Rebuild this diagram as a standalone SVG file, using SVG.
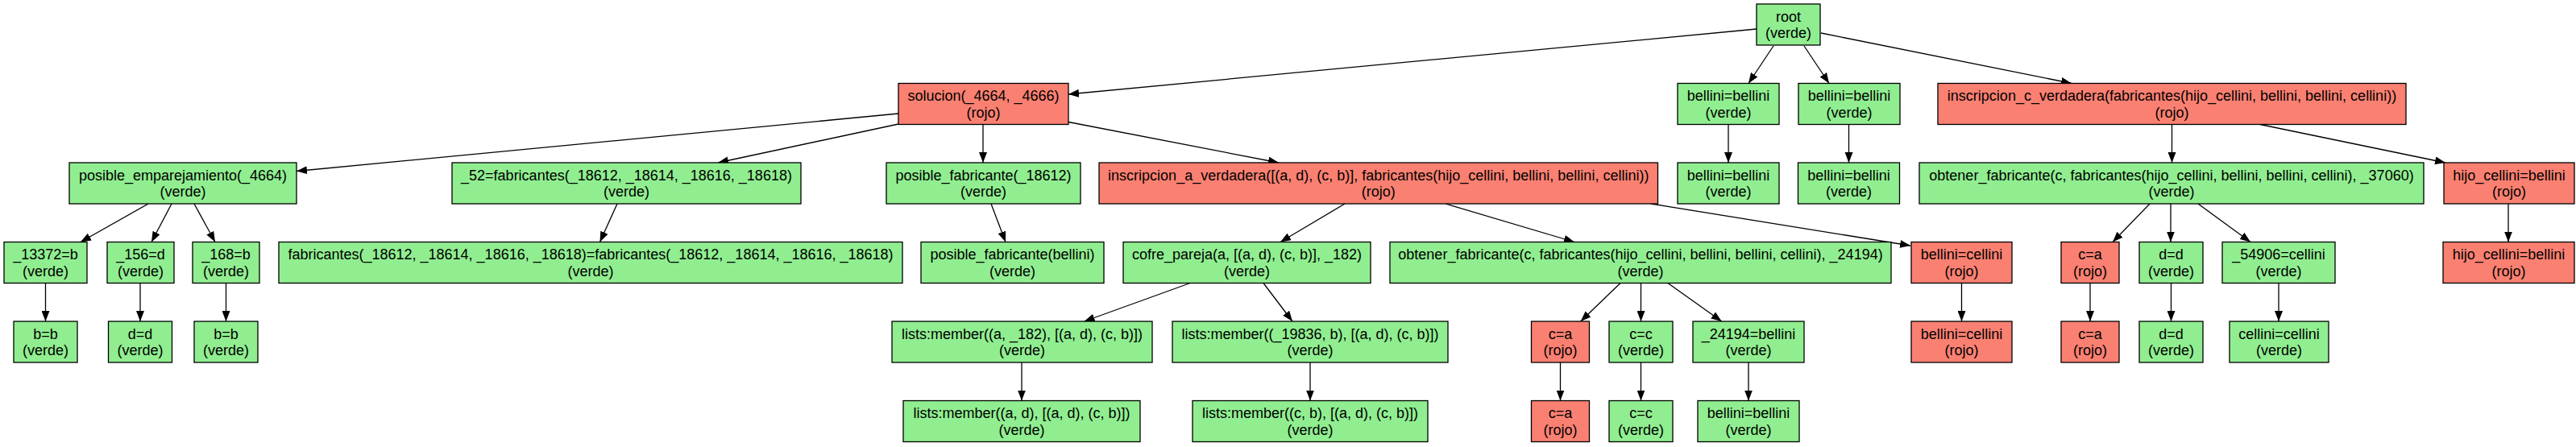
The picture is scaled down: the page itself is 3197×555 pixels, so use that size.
<svg xmlns="http://www.w3.org/2000/svg" width="3197" height="555" viewBox="0 0 3197 555">
<style>
.g{fill:#90ee90;stroke:#000;stroke-width:1.3}
.r{fill:#fa8072;stroke:#000;stroke-width:1.3}
text{font-family:"Liberation Sans",Arial,sans-serif;font-size:18px;text-anchor:middle;fill:#000}
.e{fill:none;stroke:#000;stroke-width:1.3;marker-end:url(#ah)}
</style>
<defs>
<marker id="ah" markerWidth="13" markerHeight="10" refX="13" refY="5" orient="auto" markerUnits="userSpaceOnUse">
<path d="M0,0 L13,5 L0,10 z" fill="#000"/>
</marker>
</defs>
<rect width="3197" height="555" fill="#fff"/>
<g id="edges">
<path class="e" d="M2180,36 L1326,117"/>
<path class="e" d="M2201,57 L2170,103.5"/>
<path class="e" d="M2239,57 L2270,103.5"/>
<path class="e" d="M2260,41 L2571,103.5"/>
<path class="e" d="M1115,141 L368,212.5"/>
<path class="e" d="M1115,154 L891,202"/>
<path class="e" d="M1220,154.5 L1220,202"/>
<path class="e" d="M1326,151.5 L1587,202"/>
<path class="e" d="M2145,154.5 L2145,202"/>
<path class="e" d="M2294.5,154.5 L2294.5,202"/>
<path class="e" d="M2695.5,154.5 L2695.5,202"/>
<path class="e" d="M2805,154.5 L3035,202"/>
<path class="e" d="M184,253 L100,300.5"/>
<path class="e" d="M213,253 L188,300.5"/>
<path class="e" d="M241,253 L267,300.5"/>
<path class="e" d="M766,253 L744.5,300.5"/>
<path class="e" d="M1230,253 L1248,300.5"/>
<path class="e" d="M1669,253 L1589,300.5"/>
<path class="e" d="M1794,253 L1954,300.5"/>
<path class="e" d="M2049,253 L2371,305"/>
<path class="e" d="M2668,253 L2622,300.5"/>
<path class="e" d="M2694,253 L2694,300.5"/>
<path class="e" d="M2728,253 L2793,300.5"/>
<path class="e" d="M3113,253 L3113,300.5"/>
<path class="e" d="M56.5,351.5 L56.5,399"/>
<path class="e" d="M174,351.5 L174,399"/>
<path class="e" d="M280.5,351.5 L280.5,399"/>
<path class="e" d="M1477,351.5 L1345.6,399"/>
<path class="e" d="M1568,351.5 L1604,399"/>
<path class="e" d="M2011,351.5 L1961.7,399"/>
<path class="e" d="M2036.5,351.5 L2036.5,399"/>
<path class="e" d="M2070,351.5 L2136.7,399"/>
<path class="e" d="M2434.5,351.5 L2434.5,399"/>
<path class="e" d="M2594,351.5 L2594,399"/>
<path class="e" d="M2694.5,351.5 L2694.5,399"/>
<path class="e" d="M2828,351.5 L2828,399"/>
<path class="e" d="M1268,450 L1268,497.5"/>
<path class="e" d="M1626,450 L1626,497.5"/>
<path class="e" d="M1936.5,450 L1936.5,497.5"/>
<path class="e" d="M2036.5,450 L2036.5,497.5"/>
<path class="e" d="M2170,450 L2170,497.5"/>
</g>
<g id="n_root"><rect class="g" x="2180" y="5" width="79" height="51"/><text x="2219.5" y="26.5">root</text><text x="2219.5" y="47">(verde)</text></g>
<g id="n_solucion"><rect class="r" x="1115" y="103.5" width="211" height="51"/><text x="1220.5" y="125">solucion(_4664, _4666)</text><text x="1220.5" y="145.5">(rojo)</text></g>
<g id="n_bb1"><rect class="g" x="2082" y="103.5" width="126" height="51"/><text x="2145" y="125">bellini=bellini</text><text x="2145" y="145.5">(verde)</text></g>
<g id="n_bb2"><rect class="g" x="2232" y="103.5" width="126" height="51"/><text x="2295" y="125">bellini=bellini</text><text x="2295" y="145.5">(verde)</text></g>
<g id="n_insc_c"><rect class="r" x="2405" y="103.5" width="581" height="51"/><text x="2695.5" y="125">inscripcion_c_verdadera(fabricantes(hijo_cellini, bellini, bellini, cellini))</text><text x="2695.5" y="145.5">(rojo)</text></g>
<g id="n_pos_emp"><rect class="g" x="86" y="202" width="282" height="51"/><text x="227" y="223.5">posible_emparejamiento(_4664)</text><text x="227" y="244">(verde)</text></g>
<g id="n_52"><rect class="g" x="561" y="202" width="433" height="51"/><text x="777.5" y="223.5">_52=fabricantes(_18612, _18614, _18616, _18618)</text><text x="777.5" y="244">(verde)</text></g>
<g id="n_pos_fab"><rect class="g" x="1100" y="202" width="241" height="51"/><text x="1220.5" y="223.5">posible_fabricante(_18612)</text><text x="1220.5" y="244">(verde)</text></g>
<g id="n_insc_a"><rect class="r" x="1364" y="202" width="693.5" height="51"/><text x="1710.75" y="223.5">inscripcion_a_verdadera([(a, d), (c, b)], fabricantes(hijo_cellini, bellini, bellini, cellini))</text><text x="1710.75" y="244">(rojo)</text></g>
<g id="n_bb3"><rect class="g" x="2082" y="202" width="126" height="51"/><text x="2145" y="223.5">bellini=bellini</text><text x="2145" y="244">(verde)</text></g>
<g id="n_bb4"><rect class="g" x="2231.5" y="202" width="126" height="51"/><text x="2294.5" y="223.5">bellini=bellini</text><text x="2294.5" y="244">(verde)</text></g>
<g id="n_obt37060"><rect class="g" x="2382" y="202" width="626" height="51"/><text x="2695" y="223.5">obtener_fabricante(c, fabricantes(hijo_cellini, bellini, bellini, cellini), _37060)</text><text x="2695" y="244">(verde)</text></g>
<g id="n_hijo1"><rect class="r" x="3033" y="202" width="162" height="51"/><text x="3114" y="223.5">hijo_cellini=bellini</text><text x="3114" y="244">(rojo)</text></g>
<g id="n_13372"><rect class="g" x="5" y="300.5" width="103" height="51"/><text x="56.5" y="322">_13372=b</text><text x="56.5" y="342.5">(verde)</text></g>
<g id="n_156"><rect class="g" x="133" y="300.5" width="83" height="51"/><text x="174.5" y="322">_156=d</text><text x="174.5" y="342.5">(verde)</text></g>
<g id="n_168"><rect class="g" x="239" y="300.5" width="83" height="51"/><text x="280.5" y="322">_168=b</text><text x="280.5" y="342.5">(verde)</text></g>
<g id="n_fabeq"><rect class="g" x="346" y="300.5" width="774" height="51"/><text x="733" y="322">fabricantes(_18612, _18614, _18616, _18618)=fabricantes(_18612, _18614, _18616, _18618)</text><text x="733" y="342.5">(verde)</text></g>
<g id="n_pos_fab_b"><rect class="g" x="1143" y="300.5" width="227" height="51"/><text x="1256.5" y="322">posible_fabricante(bellini)</text><text x="1256.5" y="342.5">(verde)</text></g>
<g id="n_cofre"><rect class="g" x="1394" y="300.5" width="307" height="51"/><text x="1547.5" y="322">cofre_pareja(a, [(a, d), (c, b)], _182)</text><text x="1547.5" y="342.5">(verde)</text></g>
<g id="n_obt24194"><rect class="g" x="1725" y="300.5" width="622" height="51"/><text x="2036" y="322">obtener_fabricante(c, fabricantes(hijo_cellini, bellini, bellini, cellini), _24194)</text><text x="2036" y="342.5">(verde)</text></g>
<g id="n_bc1"><rect class="r" x="2372" y="300.5" width="125" height="51"/><text x="2434.5" y="322">bellini=cellini</text><text x="2434.5" y="342.5">(rojo)</text></g>
<g id="n_ca1"><rect class="r" x="2558" y="300.5" width="72" height="51"/><text x="2594" y="322">c=a</text><text x="2594" y="342.5">(rojo)</text></g>
<g id="n_dd1"><rect class="g" x="2655" y="300.5" width="79" height="51"/><text x="2694.5" y="322">d=d</text><text x="2694.5" y="342.5">(verde)</text></g>
<g id="n_54906"><rect class="g" x="2758" y="300.5" width="140" height="51"/><text x="2828" y="322">_54906=cellini</text><text x="2828" y="342.5">(verde)</text></g>
<g id="n_hijo2"><rect class="r" x="3032" y="300.5" width="163" height="51"/><text x="3113.5" y="322">hijo_cellini=bellini</text><text x="3113.5" y="342.5">(rojo)</text></g>
<g id="n_bb5"><rect class="g" x="17" y="399" width="79" height="51"/><text x="56.5" y="420.5">b=b</text><text x="56.5" y="441">(verde)</text></g>
<g id="n_dd2"><rect class="g" x="134.5" y="399" width="79" height="51"/><text x="174" y="420.5">d=d</text><text x="174" y="441">(verde)</text></g>
<g id="n_bb6"><rect class="g" x="241" y="399" width="79" height="51"/><text x="280.5" y="420.5">b=b</text><text x="280.5" y="441">(verde)</text></g>
<g id="n_lm1"><rect class="g" x="1107" y="399" width="323" height="51"/><text x="1268.5" y="420.5">lists:member((a, _182), [(a, d), (c, b)])</text><text x="1268.5" y="441">(verde)</text></g>
<g id="n_lm2"><rect class="g" x="1455" y="399" width="342" height="51"/><text x="1626" y="420.5">lists:member((_19836, b), [(a, d), (c, b)])</text><text x="1626" y="441">(verde)</text></g>
<g id="n_ca2"><rect class="r" x="1900.5" y="399" width="72" height="51"/><text x="1936.5" y="420.5">c=a</text><text x="1936.5" y="441">(rojo)</text></g>
<g id="n_cc1"><rect class="g" x="1997" y="399" width="79" height="51"/><text x="2036.5" y="420.5">c=c</text><text x="2036.5" y="441">(verde)</text></g>
<g id="n_24194"><rect class="g" x="2101" y="399" width="138" height="51"/><text x="2170" y="420.5">_24194=bellini</text><text x="2170" y="441">(verde)</text></g>
<g id="n_bc2"><rect class="r" x="2372" y="399" width="125" height="51"/><text x="2434.5" y="420.5">bellini=cellini</text><text x="2434.5" y="441">(rojo)</text></g>
<g id="n_ca3"><rect class="r" x="2558" y="399" width="72" height="51"/><text x="2594" y="420.5">c=a</text><text x="2594" y="441">(rojo)</text></g>
<g id="n_dd3"><rect class="g" x="2655" y="399" width="79" height="51"/><text x="2694.5" y="420.5">d=d</text><text x="2694.5" y="441">(verde)</text></g>
<g id="n_cellini"><rect class="g" x="2767" y="399" width="123" height="51"/><text x="2828.5" y="420.5">cellini=cellini</text><text x="2828.5" y="441">(verde)</text></g>
<g id="n_lm3"><rect class="g" x="1121" y="497.5" width="294" height="51"/><text x="1268" y="519">lists:member((a, d), [(a, d), (c, b)])</text><text x="1268" y="539.5">(verde)</text></g>
<g id="n_lm4"><rect class="g" x="1480" y="497.5" width="292" height="51"/><text x="1626" y="519">lists:member((c, b), [(a, d), (c, b)])</text><text x="1626" y="539.5">(verde)</text></g>
<g id="n_ca4"><rect class="r" x="1900.5" y="497.5" width="72" height="51"/><text x="1936.5" y="519">c=a</text><text x="1936.5" y="539.5">(rojo)</text></g>
<g id="n_cc2"><rect class="g" x="1997" y="497.5" width="79" height="51"/><text x="2036.5" y="519">c=c</text><text x="2036.5" y="539.5">(verde)</text></g>
<g id="n_bb7"><rect class="g" x="2107" y="497.5" width="126" height="51"/><text x="2170" y="519">bellini=bellini</text><text x="2170" y="539.5">(verde)</text></g>
</svg>
